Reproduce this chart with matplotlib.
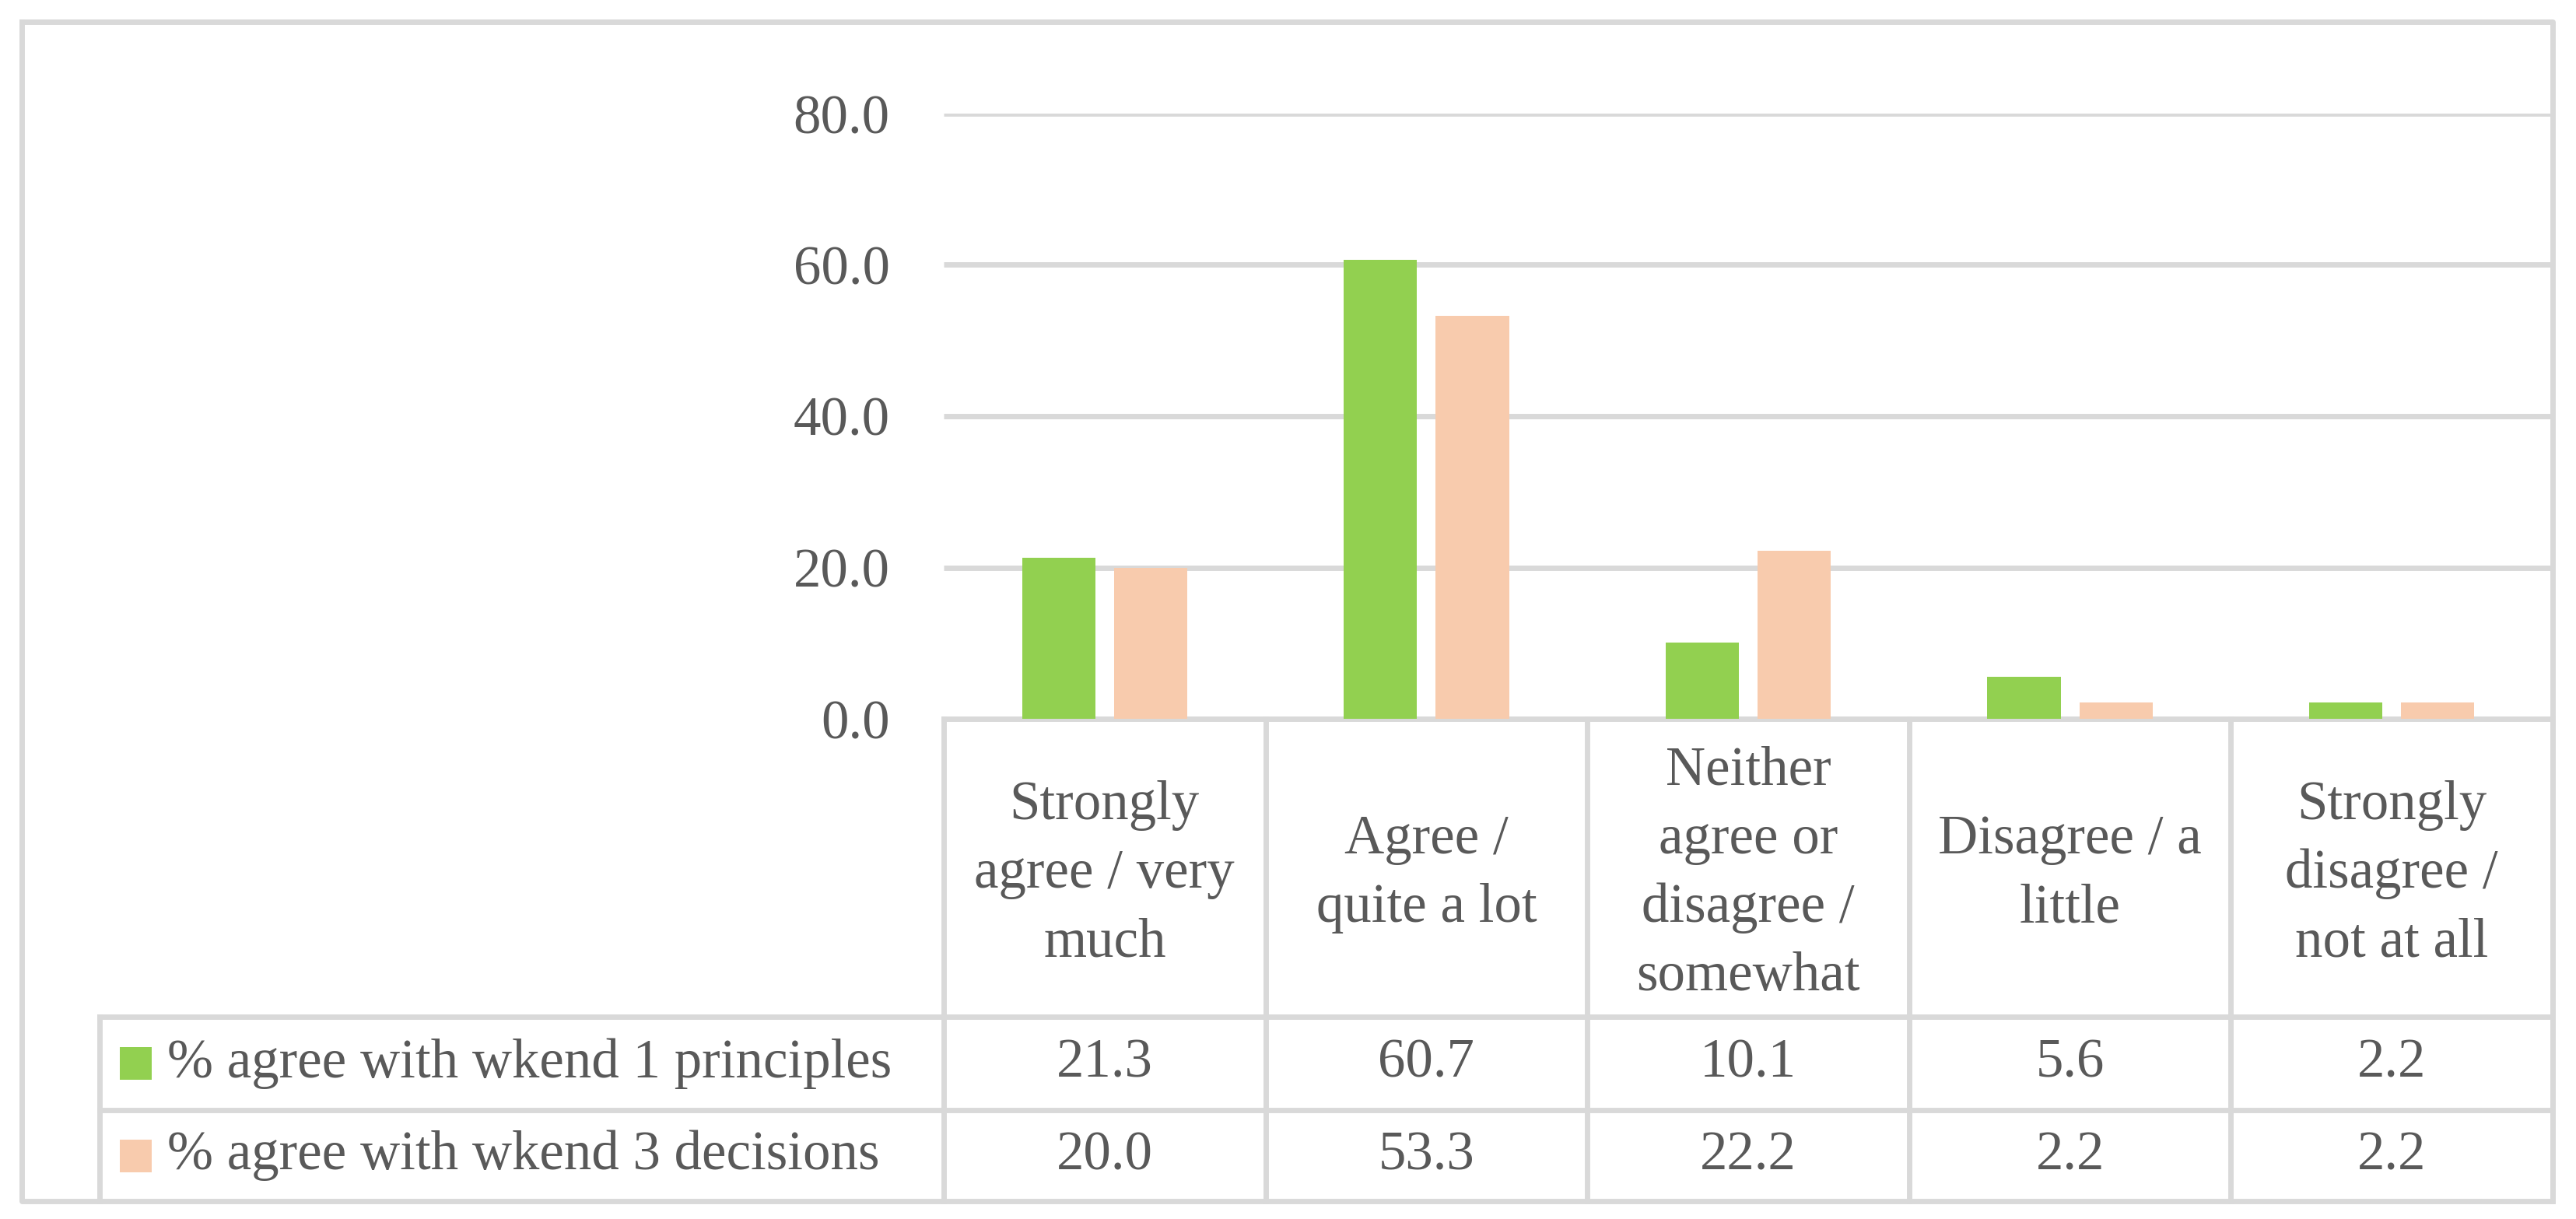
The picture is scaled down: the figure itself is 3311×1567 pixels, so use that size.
import numpy as np
import matplotlib
matplotlib.use("Agg")
import matplotlib.pyplot as plt
from matplotlib.patches import Rectangle

# ---- data ----
categories = ["Strongly\nagree / very\nmuch", "Agree /\nquite a lot",
              "Neither\nagree or\ndisagree /\nsomewhat", "Disagree / a\nlittle",
              "Strongly\ndisagree /\nnot at all"]
series_names = ["% agree with wkend 1 principles", "% agree with wkend 3 decisions"]
wkend1 = [21.3, 60.7, 10.1, 5.6, 2.2]
wkend3 = [20.0, 53.3, 22.2, 2.2, 2.2]
yticks = [0, 20, 40, 60, 80]
ytick_labels = ["0.0", "20.0", "40.0", "60.0", "80.0"]

colors = ["#92D050", "#F8CBAD"]
grid_c = "#D9D9D9"
text_c = "#595959"
FONT = ["Liberation Serif", "DejaVu Serif"]
FS = 25.5
LW = 2.5

W, H, DPI = 3311, 1567, 200
fig = plt.figure(figsize=(W / DPI, H / DPI), dpi=DPI)
plt.rcParams['font.family'] = FONT

# layout in pixels
ax_l, ax_r = 1213.0, 3281.0
ax_top, ax_bot = 146.0, 924.0
hdr_bot, row1_bot, row2_bot = 1307.0, 1427.0, 1544.0
leg_l = 127.5
border = (27.5, 28.0, 3281.0, 1544.0)

# background axes for table and border (pixel coordinates)
axt = fig.add_axes([0, 0, 1, 1])
axt.set_xlim(0, W)
axt.set_ylim(H, 0)
axt.axis("off")

ax = fig.add_axes([ax_l / W, 1 - ax_bot / H, (ax_r - ax_l) / W, (ax_bot - ax_top) / H])
ax.patch.set_visible(False)
n = len(categories)
x = np.arange(n) + 0.5
bw = 0.2276
off = 0.143
ax.bar(x - off, wkend1, bw, color=colors[0], zorder=3)
ax.bar(x + off, wkend3, bw, color=colors[1], zorder=3)
ax.set_xlim(0, n)
ax.set_ylim(0, 80)
ax.set_yticks(yticks)
ax.set_yticklabels(ytick_labels)
ax.set_xticks([])
ax.tick_params(axis="y", length=0, pad=25, labelsize=FS, labelcolor=text_c)
for s in ax.spines.values():
    s.set_visible(False)
for t in yticks[1:]:
    ax.axhline(t, color=grid_c, lw=LW, zorder=1, solid_capstyle="butt")

# table lines
colw = (ax_r - ax_l) / n
edges = [ax_l + k * colw for k in range(n + 1)]
def line(xs, ys):
    axt.plot(xs, ys, color=grid_c, lw=LW, solid_capstyle="projecting", zorder=2)

line([ax_l, ax_r], [ax_bot, ax_bot])
line([leg_l, ax_r], [hdr_bot, hdr_bot])
line([leg_l, ax_r], [row1_bot, row1_bot])
for e in edges:
    line([e, e], [ax_bot, row2_bot])
line([leg_l, leg_l], [hdr_bot, row2_bot])
# outer border
bx0, by0, bx1, by1 = border
line([bx0, bx1, bx1, bx0, bx0], [by0, by0, by1, by1, by0])

# header texts
for i, c in enumerate(categories):
    axt.text((edges[i] + edges[i + 1]) / 2, (ax_bot + hdr_bot) / 2 + 8, c,
             ha="center", va="center", fontsize=FS, color=text_c,
             linespacing=1.46, multialignment="center")

rows = [(hdr_bot, row1_bot, wkend1), (row1_bot, row2_bot, wkend3)]
for j, (y0, y1, vals) in enumerate(rows):
    yc = (y0 + y1) / 2
    for i, v in enumerate(vals):
        axt.text((edges[i] + edges[i + 1]) / 2, yc, f"{v:.1f}", ha="center",
                 va="center", fontsize=FS, color=text_c)
    axt.add_patch(Rectangle((154, yc - 21), 41, 42, color=colors[j], lw=0))
    axt.text(215, yc, series_names[j], ha="left", va="center",
             fontsize=FS, color=text_c)

fig.savefig("out.png", dpi=DPI, facecolor="white")
